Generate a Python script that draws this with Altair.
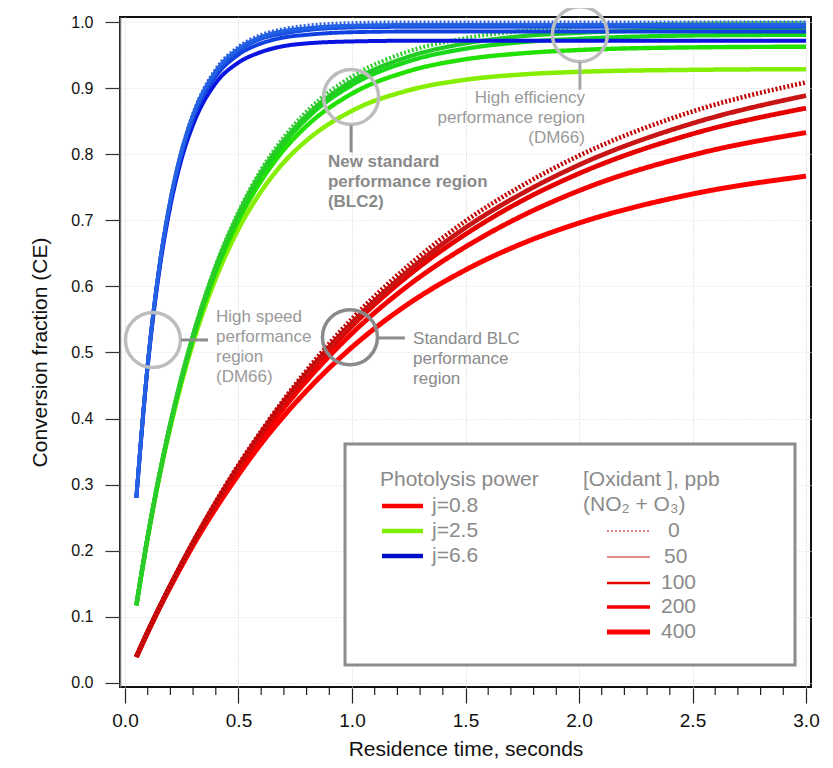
import altair as alt
import pandas as pd

# ---------------- data ----------------
t_values = [0.05, 0.1, 0.15, 0.2, 0.25, 0.3, 0.4, 0.5, 0.6, 0.7, 0.8, 1.0, 1.25, 1.5, 1.75, 2.0, 2.5, 3.0]

red_0 = [0.039, 0.077, 0.113, 0.148, 0.181, 0.213, 0.274, 0.330, 0.381, 0.429, 0.473, 0.551, 0.632, 0.699, 0.753, 0.798, 0.865, 0.909]
red_50 = [0.039, 0.077, 0.113, 0.147, 0.181, 0.213, 0.273, 0.328, 0.379, 0.426, 0.469, 0.545, 0.624, 0.689, 0.741, 0.784, 0.847, 0.889]
red_100 = [0.039, 0.077, 0.113, 0.147, 0.180, 0.212, 0.271, 0.326, 0.376, 0.422, 0.465, 0.540, 0.617, 0.679, 0.730, 0.771, 0.831, 0.870]
red_200 = [0.039, 0.077, 0.112, 0.147, 0.179, 0.211, 0.269, 0.323, 0.371, 0.416, 0.457, 0.529, 0.602, 0.660, 0.707, 0.745, 0.799, 0.833]
red_400 = [0.039, 0.076, 0.112, 0.145, 0.177, 0.208, 0.264, 0.315, 0.362, 0.404, 0.442, 0.508, 0.574, 0.625, 0.665, 0.696, 0.740, 0.767]

green_0 = [0.118, 0.221, 0.313, 0.393, 0.465, 0.528, 0.632, 0.713, 0.777, 0.826, 0.865, 0.918, 0.956, 0.976, 0.987, 0.993, 0.998, 0.999]
green_50 = [0.117, 0.221, 0.312, 0.393, 0.463, 0.526, 0.630, 0.710, 0.773, 0.821, 0.859, 0.911, 0.948, 0.968, 0.979, 0.984, 0.989, 0.990]
green_100 = [0.117, 0.221, 0.312, 0.392, 0.462, 0.524, 0.627, 0.707, 0.769, 0.816, 0.854, 0.905, 0.941, 0.960, 0.970, 0.975, 0.980, 0.981]
green_200 = [0.117, 0.220, 0.311, 0.390, 0.460, 0.521, 0.622, 0.700, 0.760, 0.807, 0.843, 0.892, 0.926, 0.944, 0.953, 0.958, 0.962, 0.963]
green_400 = [0.117, 0.219, 0.309, 0.387, 0.455, 0.515, 0.612, 0.687, 0.744, 0.788, 0.821, 0.866, 0.897, 0.913, 0.921, 0.925, 0.928, 0.929]

blue_0 = [0.281, 0.483, 0.628, 0.733, 0.808, 0.862, 0.929, 0.963, 0.981, 0.990, 0.995, 0.999, 1.000, 1.000, 1.000, 1.000, 1.000, 1.000]
blue_50 = [0.281, 0.483, 0.628, 0.731, 0.806, 0.860, 0.926, 0.960, 0.978, 0.987, 0.991, 0.995, 0.996, 0.996, 0.996, 0.996, 0.996, 0.996]
blue_100 = [0.281, 0.482, 0.627, 0.730, 0.804, 0.858, 0.923, 0.957, 0.975, 0.983, 0.988, 0.992, 0.993, 0.993, 0.993, 0.993, 0.993, 0.993]
blue_200 = [0.280, 0.481, 0.625, 0.727, 0.801, 0.854, 0.918, 0.951, 0.968, 0.977, 0.981, 0.985, 0.986, 0.986, 0.986, 0.986, 0.986, 0.986]
blue_400 = [0.280, 0.479, 0.621, 0.722, 0.794, 0.845, 0.908, 0.939, 0.955, 0.964, 0.968, 0.971, 0.972, 0.972, 0.972, 0.972, 0.972, 0.972]

curve_keys = ["01R400", "02R200", "03R100", "04R50", "05R0",
              "06G400", "07G200", "08G100", "09G50", "10G0",
              "11B400", "12B200", "13B100", "14B50", "15B0"]
curve_values = [red_400, red_200, red_100, red_50, red_0,
                green_400, green_200, green_100, green_50, green_0,
                blue_400, blue_200, blue_100, blue_50, blue_0]
curve_colors = ["#ff0000", "#f40000", "#e60000", "#c81414", "#c00000",
                "#86ee00", "#22e000", "#18d818", "#22cc22", "#33cc33",
                "#0a14e0", "#1040e0", "#1a50e0", "#2060e6", "#2a62e0"]
curve_widths = [5, 3.6, 2.6, 1.1, 1.0,
                5, 3.6, 2.6, 1.1, 1.0,
                5, 3.6, 2.6, 1.1, 1.0]
curve_dash = [[1, 0], [1, 0], [1, 0], [1, 0], [2, 2],
              [1, 0], [1, 0], [1, 0], [1, 0], [2, 2],
              [1, 0], [1, 0], [1, 0], [1, 0], [2, 2]]

rows = []
for key, vals in zip(curve_keys, curve_values):
    for tt, v in zip(t_values, vals):
        rows.append({"series": key, "t": tt, "ce": v})
df = pd.DataFrame(rows)

# annotations (data coordinates)
circle_t = [0.123, 0.991, 0.996, 2.004]
circle_ce = [0.519, 0.523, 0.887, 0.982]
circle_colors = ["#bdbdbd", "#8a8a8a", "#bdbdbd", "#bdbdbd"]

leader_t1 = [0.247, 1.115, 0.996, 2.004]
leader_t2 = [0.366, 1.233, 0.996, 2.004]
leader_ce1 = [0.519, 0.522, 0.844, 0.940]
leader_ce2 = [0.519, 0.522, 0.803, 0.898]
leader_colors = ["#8c8c8c", "#8c8c8c", "#8c8c8c", "#a6a6a6"]

note_speed = {"t": 0.401, "ce": 0.566, "text": "High speed\nperformance\nregion\n(DM66)"}
note_blc = {"t": 1.269, "ce": 0.532, "text": "Standard BLC\nperformance\nregion"}
note_new = {"t": 0.894, "ce": 0.800, "text": "New standard\nperformance region\n(BLC2)"}
note_eff = {"t": 2.026, "ce": 0.897, "text": "High efficiency\nperformance region\n(DM66)"}

# legend content
j_labels = ["j=0.8", "j=2.5", "j=6.6"]
j_colors = ["#ff0000", "#80ee00", "#0010c8"]
ox_labels = ["0", "50", "100", "200", "400"]
ox_colors = ["#c00000", "#c41818", "#e80000", "#f80000", "#ff0000"]
ox_widths = [1.2, 1.1, 2.6, 3.6, 5]
ox_dash = [[2, 2], [1, 0], [1, 0], [1, 0], [1, 0]]

x_major = [0.0, 0.5, 1.0, 1.5, 2.0, 2.5, 3.0]
x_minor = [round(i * 0.1, 1) for i in range(31) if i % 5 != 0]
y_ticks = [round(i * 0.1, 1) for i in range(11)]

SANS = "Liberation Sans, Arial, sans-serif"
NARROW = "Liberation Sans Narrow, Arial Narrow, Liberation Sans, sans-serif"

x_scale = alt.Scale(domain=[-0.022, 3.022], nice=False, zero=False)
y_scale = alt.Scale(domain=[-0.0065, 1.008], nice=False, zero=False)

x_axis = alt.Axis(
    values=x_major, format=".1f", labelOverlap=False,
    tickSize=15, tickColor="#222222", tickWidth=1.2,
    grid=True, gridColor="#cfcfcf", gridDash=[1, 2], gridWidth=1,
    domain=False, offset=1,
    labelFont=NARROW, labelFontSize=19, labelColor="#111111", labelPadding=8,
    labelFlush=False,
    title="Residence time, seconds", titleFont=NARROW, titleFontSize=21,
    titleFontWeight="normal", titleColor="#111111", titlePadding=8,
)
y_axis = alt.Axis(
    values=y_ticks, format=".1f", labelOverlap=False,
    tickSize=15, tickColor="#333333", tickWidth=1.2,
    grid=True, gridColor="#dedede", gridDash=[1, 2], gridWidth=1,
    domain=True, domainColor="#777777", domainWidth=1.5,
    labelFont=SANS, labelFontSize=16, labelColor="#111111", labelPadding=12,
    labelFlush=False,
    title="Conversion fraction (CE)", titleFont=NARROW, titleFontSize=21,
    titleFontWeight="normal", titleColor="#111111", titlePadding=20,
)

lines = alt.Chart(df).mark_line(interpolate="monotone", strokeCap="butt").encode(
    x=alt.X("t:Q", scale=x_scale, axis=x_axis),
    y=alt.Y("ce:Q", scale=y_scale, axis=y_axis),
    color=alt.Color("series:N", scale=alt.Scale(domain=curve_keys, range=curve_colors), legend=None),
    strokeWidth=alt.StrokeWidth("series:N", scale=alt.Scale(domain=curve_keys, range=curve_widths), legend=None),
    strokeDash=alt.StrokeDash("series:N", scale=alt.Scale(domain=curve_keys, range=curve_dash), legend=None),
)

# minor ticks on the x axis (positioned through the x scale)
minor_ticks = alt.Chart(pd.DataFrame({"t": x_minor})).mark_rule(color="#222222", strokeWidth=1.2).encode(
    x="t:Q", y=alt.value(671), y2=alt.value(678),
)

annotation_layers = []
for ct, cc, col in zip(circle_t, circle_ce, circle_colors):
    annotation_layers.append(
        alt.Chart(pd.DataFrame({"t": [ct], "ce": [cc]})).mark_point(
            shape="circle", filled=False, size=3025, strokeWidth=3.5, opacity=1, color=col
        ).encode(x="t:Q", y="ce:Q")
    )
for a1, a2, b1, b2, col in zip(leader_t1, leader_t2, leader_ce1, leader_ce2, leader_colors):
    annotation_layers.append(
        alt.Chart(pd.DataFrame({"t1": [a1], "t2": [a2], "c1": [b1], "c2": [b2]})).mark_rule(
            strokeWidth=3, color=col
        ).encode(x="t1:Q", x2="t2:Q", y="c1:Q", y2="c2:Q")
    )


def note(d, align, color, weight="normal"):
    return alt.Chart(pd.DataFrame([d])).mark_text(
        align=align, baseline="top", lineBreak="\n", lineHeight=20,
        font=SANS, fontSize=17, fontWeight=weight, color=color,
    ).encode(x="t:Q", y="ce:Q", text="text:N")


annotation_layers += [
    note(note_speed, "left", "#9a9a9a"),
    note(note_blc, "left", "#8a8a8a"),
    note(note_new, "left", "#8a8a8a", "bold"),
    note(note_eff, "right", "#9a9a9a"),
]

# ---------------- legend box (pixel positions inside plot) ----------------
one = pd.DataFrame({"a": [0]})
legend_layers = [
    alt.Chart(one).mark_rect(fill="white", stroke="#8c8c8c", strokeWidth=3).encode(
        x=alt.value(225), x2=alt.value(675), y=alt.value(427), y2=alt.value(648)),
]


def ltext(txt, x, y, align="left"):
    return alt.Chart(one).mark_text(align=align, baseline="middle", font=SANS, fontSize=21,
                                    color="#8a8a8a").encode(
        x=alt.value(x), y=alt.value(y), text=alt.value(txt))


legend_layers.append(ltext("Photolysis power", 260, 463))
for i, (lab, col) in enumerate(zip(j_labels, j_colors)):
    yy = 489 + 25 * i
    legend_layers.append(alt.Chart(one).mark_rule(color=col, strokeWidth=4.5).encode(
        x=alt.value(262), x2=alt.value(303), y=alt.value(yy)))
    legend_layers.append(ltext(lab, 312, yy))

legend_layers.append(ltext("[Oxidant ], ppb", 463, 463))
legend_layers.append(ltext("(NO\u2082 + O\u2083)", 463, 488))
ox_y = [514, 540, 566, 590, 615]
ox_x = [548, 544, 541, 541, 541]
for lab, col, w, dsh, yy, xx in zip(ox_labels, ox_colors, ox_widths, ox_dash, ox_y, ox_x):
    legend_layers.append(alt.Chart(one).mark_rule(color=col, strokeWidth=w, strokeDash=dsh).encode(
        x=alt.value(487), x2=alt.value(530), y=alt.value(yy)))
    legend_layers.append(ltext(lab, xx, yy))

chart = alt.layer(lines, minor_ticks, *annotation_layers, *legend_layers).properties(
    width=691, height=670,
    autosize=alt.AutoSizeParams(type="none"),
    padding={"left": 112, "top": 9, "right": 14, "bottom": 73},
).configure_view(stroke="#111111", strokeWidth=2)

chart.save("out.html", embed_options={"renderer": "svg", "actions": False})
